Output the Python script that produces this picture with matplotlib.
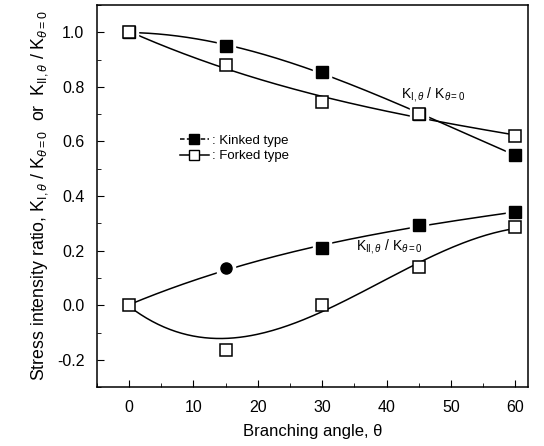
import numpy as np
import matplotlib
matplotlib.use("Agg")
import matplotlib.pyplot as plt
from matplotlib.ticker import MultipleLocator, FormatStrFormatter
from matplotlib.lines import Line2D

plt.rcParams['font.family'] = ['Liberation Sans', 'DejaVu Sans']
plt.rcParams['mathtext.fontset'] = 'custom'
plt.rcParams['mathtext.rm'] = 'Liberation Sans'
plt.rcParams['mathtext.it'] = 'Liberation Sans:italic'

angles = [0, 15, 30, 45, 60]
kinked_KI = [1.0, 0.95, 0.855, 0.70, 0.55]
forked_KI = [1.0, 0.88, 0.745, 0.70, 0.62]
kinked_KII = [0.0, 0.135, 0.21, 0.295, 0.34]
forked_KII = [0.0, -0.165, 0.0, 0.14, 0.285]

fig = plt.figure(figsize=(5.44, 4.46), dpi=100)
ax = fig.add_axes([0.178, 0.132, 0.793, 0.857])

xs = np.linspace(0, 60, 200)
fits = [(kinked_KI, None), (forked_KI, None), (kinked_KII, None),
        (forked_KII, [1, 0.6, 1, 1, 1])]
for vals, w in fits:
    c = np.polyfit(angles, vals, 3, w=w)
    ax.plot(xs, np.polyval(c, xs), color='black', lw=1.1, zorder=1)

ms = 8
# white halos around filled markers (gap between line and marker)
ax.plot(angles, kinked_KI, 's', color='white', ms=ms + 5, zorder=2)
ax.plot(angles[1:], kinked_KII[1:], 's', color='white', ms=ms + 5, zorder=2)
ax.plot(angles, kinked_KI, 's', color='black', ms=ms, zorder=3)
ax.plot(angles[2:], kinked_KII[2:], 's', color='black', ms=ms, zorder=3)
ax.plot([angles[1]], [kinked_KII[1]], 'o', color='black', ms=ms, zorder=3)
ax.plot(angles, forked_KI, 's', mfc='white', mec='black', mew=1.1, ms=ms, zorder=4)
ax.plot(angles, forked_KII, 's', mfc='white', mec='black', mew=1.1, ms=ms, zorder=4)

ax.set_xlim(-5, 62)
ax.set_ylim(-0.3, 1.1)
ax.xaxis.set_major_locator(MultipleLocator(10))
ax.xaxis.set_minor_locator(MultipleLocator(5))
ax.yaxis.set_major_locator(MultipleLocator(0.2))
ax.yaxis.set_minor_locator(MultipleLocator(0.1))
ax.yaxis.set_major_formatter(FormatStrFormatter('%.1f'))
ax.tick_params(which='both', direction='in', top=False, right=False, labelsize=11.5)
ax.tick_params(which='major', length=5, pad=9)
ax.tick_params(which='minor', length=3)
for s in ax.spines.values():
    s.set_linewidth(1.1)

ax.set_xlabel('Branching angle, θ', fontsize=12, labelpad=7)
ax.set_ylabel(r'Stress intensity ratio, K$_{\mathrm{I},\theta}$ / K$_{\theta=0}$  or  K$_{\mathrm{II},\theta}$ / K$_{\theta=0}$',
              fontsize=12.8, labelpad=5)

ax.text(42.2, 0.738, r'K$_{\mathrm{I},\theta}$ / K$_{\theta=0}$', fontsize=10, ha='left', va='bottom')
ax.text(35.2, 0.18, r'K$_{\mathrm{II},\theta}$ / K$_{\theta=0}$', fontsize=10, ha='left', va='bottom')

h1 = Line2D([], [], color='black', marker='s', ms=7, lw=1.1, ls='--', dashes=(3, 1.5))
h2 = Line2D([], [], color='black', marker='s', mfc='white', ms=7, lw=1.1)
ax.legend([h1, h2], [': Kinked type', ': Forked type'], loc='center left',
          bbox_to_anchor=(0.165, 0.625), frameon=False, fontsize=9.5, handlelength=2.2,
          handletextpad=0.2, labelspacing=0.25)

fig.savefig('out.png', dpi=100)
